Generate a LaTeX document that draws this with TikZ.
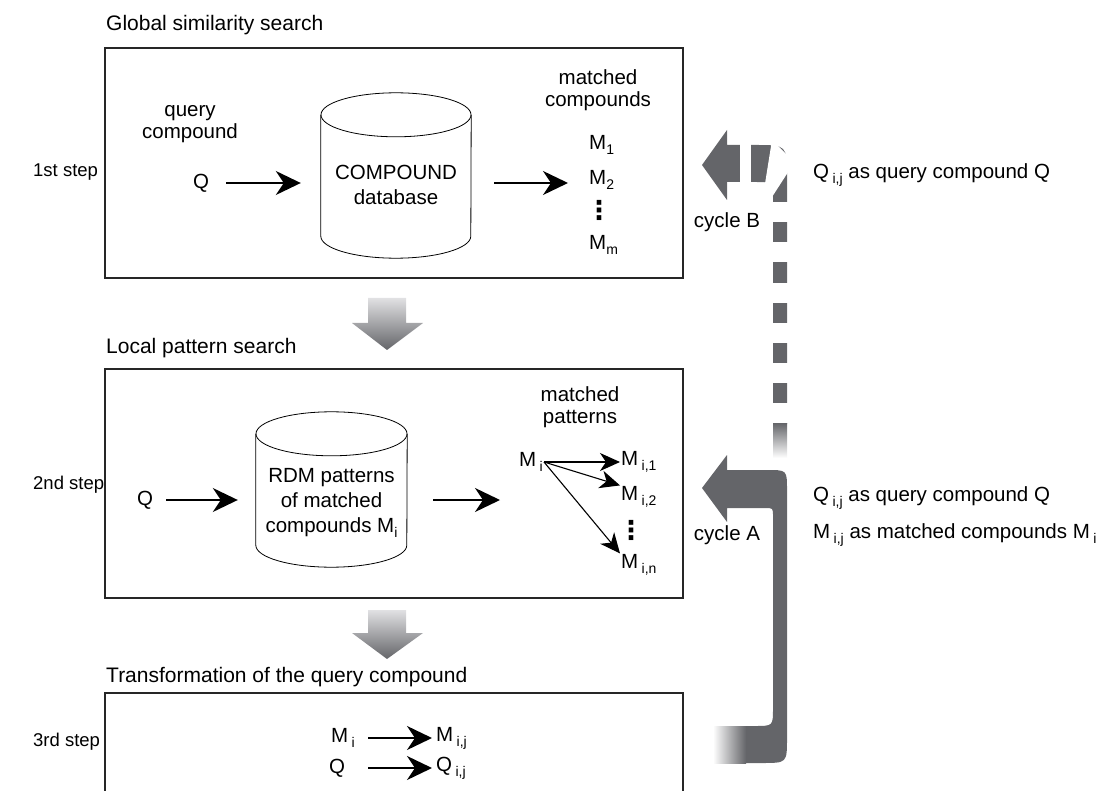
\documentclass[tikz,border=0pt]{standalone}
\usepackage{fontspec}
\setmainfont{Liberation Sans}
\newfontfamily\dotfont{DejaVu Sans}
\usetikzlibrary{arrows.meta,positioning}
\definecolor{bandgray}{RGB}{100,101,105}
\definecolor{bandlight}{RGB}{225,225,227}
\newcommand{\idx}[1]{\raisebox{-0.45ex}{\fontsize{14}{14}\selectfont #1}}
\newcommand{\idxgap}[1]{\,\idx{#1}}
\tikzset{
    txt/.style = {inner sep=1pt, font=\fontsize{20.5}{22}\selectfont},
    titletxt/.style = {txt, anchor=west, font=\fontsize{21}{22}\selectfont},
    steptxt/.style = {txt, anchor=west, font=\fontsize{18.5}{22}\selectfont},
    vdotstxt/.style = {inner sep=0pt, font=\dotfont\bfseries\fontsize{26}{26}\selectfont},
    stepbox/.style = {draw=black!85, line width=1.1pt},
    dbbox/.style = {inner sep=0pt, minimum width=150pt},
    dbline/.style = {line width=0.8pt},
    dbtxt/.style = {align=center, inner sep=1pt, font=\fontsize{20.5}{25}\selectfont},
    bigarrow/.style = {line width=1.8pt, -{Stealth[length=25pt,width=24pt,inset=8pt]}},
    fanarrow/.style = {line width=1.1pt, -{Stealth[length=20pt,width=18pt,inset=6pt]}},
}

\begin{document}
\begin{tikzpicture}[x=1pt,y=-1pt]
\useasboundingbox (0,0) rectangle (1116,791);

% the three steps
\draw[stepbox] (105,48) rectangle (683,278);
\draw[stepbox] (105,369) rectangle (683,598);
\draw[stepbox] (105,791) -- (105,693) -- (683,693) -- (683,791);
\node[titletxt] (t1) at (105,25) {Global similarity search};
\node[titletxt] (t2) at (105,348) {Local pattern search};
\node[titletxt] (t3) at (105,677) {Transformation of the query compound};
\node[steptxt] (s1) at (32,172) {1st step};
\node[steptxt] (s2) at (32,485) {2nd step};
\node[steptxt] (s3) at (32,742) {3rd step};

% down arrows
\shade[top color=bandlight, bottom color=bandgray] (368,298) -- (406,298) -- (406,323) -- (423,323) -- (387,350) -- (352,323) -- (368,323) -- cycle;
\shade[top color=bandlight, bottom color=bandgray] (368,610) -- (406,610) -- (406,633) -- (423,633) -- (387,659) -- (352,633) -- (368,633) -- cycle;

% step 1
\node[txt, align=center] (qlab) at (190,124) {query\\compound};
\node[txt] (q1) at (201,183) {Q};
\node[dbbox, minimum height=165pt] (db1) at (396,175.5) {};
\draw[dbline] ([yshift=-22pt]db1.north west) -- ([yshift=22pt]db1.south west)
    arc[start angle=180, end angle=0, x radius=75, y radius=22] -- ([yshift=-22pt]db1.north east);
\draw[dbline] ([yshift=-22pt]db1.north) ellipse [x radius=75, y radius=22];
\node[dbtxt] (db1txt) at ([yshift=-9pt]db1.center) {COMPOUND\\database};
\node[txt, align=center] (mlab1) at (598,90) {matched\\compounds};
\node[txt, anchor=west] (m1) at (588,145) {M\idx{1}};
\node[txt, anchor=west] (m2) at (588,180) {M\idx{2}};
\node[vdotstxt] (dots1) at (599,210) {⋮};
\node[txt, anchor=west] (mm) at (588,245) {M\idx{m}};
\draw[bigarrow, shorten <=16pt, shorten >=20pt] (q1.east) -- (q1.east -| db1.west);
\draw[bigarrow, shorten <=23pt, shorten >=20pt] (q1.east -| db1.east) -- (q1.east -| m2.west);

% step 2
\node[txt] (q2) at (145,500) {Q};
\node[dbbox, minimum width=151pt, minimum height=155pt] (db2) at (331.5,489.5) {};
\draw[dbline] ([yshift=-22pt]db2.north west) -- ([yshift=22pt]db2.south west)
    arc[start angle=180, end angle=0, x radius=75.5, y radius=22] -- ([yshift=-22pt]db2.north east);
\draw[dbline] ([yshift=-22pt]db2.north) ellipse [x radius=75.5, y radius=22];
\node[dbtxt] (db2txt) at ([yshift=-13.5pt]db2.center) {RDM patterns\\of matched\\compounds M\idx{i}};
\node[txt, align=center] (mlab2) at (580,407) {matched\\patterns};
\node[txt, anchor=west] (mi) at (518,462) {M\idxgap{i}};
\node[txt, anchor=west] (mi1) at (620,462) {M\idxgap{i,1}};
\node[txt, anchor=west] (mi2) at (620,497) {M\idxgap{i,2}};
\node[vdotstxt] (dots2) at (631,530) {⋮};
\node[txt, anchor=west] (min) at (620,565) {M\idxgap{i,n}};
\draw[bigarrow, shorten <=12pt, shorten >=18pt] (q2.east) -- (q2.east -| db2.west);
\draw[bigarrow, shorten <=26pt, shorten >=18pt] (q2.east -| db2.east) -- (q2.east -| mi.west);
\draw[fanarrow] (mi.east) -- (mi1.west);
\draw[fanarrow] (mi.east) -- (mi2.north west);
\draw[fanarrow] (mi.east) -- (min.north west);

% step 3
\node[txt, anchor=west] (mi3) at (330,738) {M\idxgap{i}};
\node[txt, anchor=west] (mij) at (435,738) {M\idxgap{i,j}};
\node[txt, anchor=west] (q3) at (328,768) {Q};
\node[txt, anchor=west] (qij) at (435,768) {Q\idxgap{i,j}};
\draw[bigarrow, shorten <=12pt, shorten >=3pt] (mi3.east) -- (mi3.east -| mij.west);
\draw[bigarrow, shorten <=22pt, shorten >=3pt] (q3.east) -- (q3.east -| qij.west);

% cycle A
\fill[bandgray] (745,763) -- (762,763) .. controls (787,763) .. (787,738) -- (787,490) .. controls (787,470) .. (767,470) -- (727,470) -- (727,455) -- (702,488) -- (727,522) -- (727,508) -- (765,508) .. controls (773,508) .. (773,516) -- (773,708) .. controls (773,726) .. (755,726) -- (745,726) -- cycle;
\shade[left color=white, right color=bandgray] (713,726) rectangle (746,763);

% cycle B
\fill[bandgray] (727,145) -- (755,145) .. controls (787,145) .. (787,177) -- (787,424) -- (773,424) -- (773,200) .. controls (773,182) .. (755,182) -- (727,182) -- (727,200) -- (702,165) -- (727,130) -- cycle;
\shade[top color=bandgray, bottom color=white] (773,423) rectangle (787,458);
\fill[white] (740,140) rectangle (751,187);
\fill[white] (772,140) -- (792,160) -- (792,166) -- (772,197) -- (764,190) -- cycle;
\foreach \y in {202,242,283,323,363,403}
    \fill[white] (770,\y) rectangle (790,\y+20);

\node[txt] (cb) at (727,222) {cycle B};
\node[txt] (ca) at (727,535) {cycle A};
\node[txt, anchor=west] (r1) at (812,175) {Q\idxgap{i,j} as query compound Q};
\node[txt, anchor=west] (r2) at (812,498) {Q\idxgap{i,j} as query compound Q};
\node[txt, anchor=west] (r3) at (812,535) {M\idxgap{i,j} as matched compounds M\idxgap{i}};
\end{tikzpicture}
\end{document}
